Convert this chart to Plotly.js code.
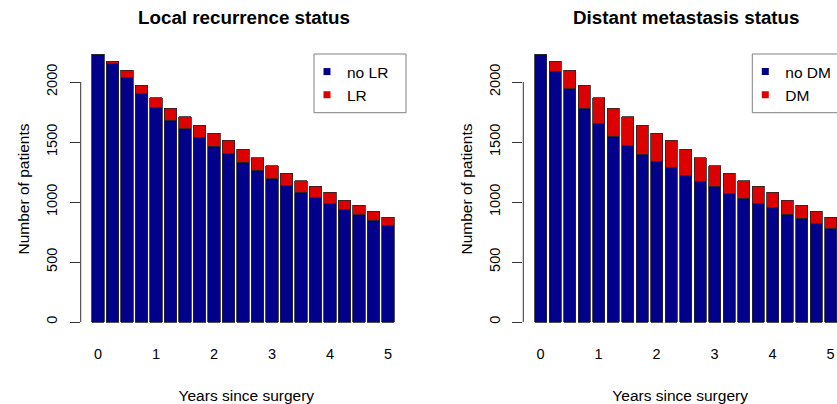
<!DOCTYPE html>
<html>
<head>
<meta charset="utf-8">
<script src="https://cdn.plot.ly/plotly-3.0.1.min.js"></script>
<style>
  html, body { margin: 0; padding: 0; background: #ffffff; }
  #chart { width: 837px; height: 404px; }
</style>
</head>
<body>
<div id="chart"></div>
<script>
// Follow-up time points (years since surgery), one bar every quarter year
const years = [0, 0.25, 0.5, 0.75, 1, 1.25, 1.5, 1.75, 2, 2.25, 2.5, 2.75,
               3, 3.25, 3.5, 3.75, 4, 4.25, 4.5, 4.75, 5];
const yearTicks = [0, 1, 2, 3, 4, 5];
const countTicks = [0, 500, 1000, 1500, 2000];

// Patients still under follow-up, split by local recurrence status
const noLR = [2232, 2153, 2036, 1903, 1786, 1681, 1611, 1541, 1466, 1403, 1330,
              1264, 1195, 1136, 1080, 1036, 991, 936, 895, 847, 803];
const LR   = [0, 22, 61, 72, 83, 100, 100, 100, 109, 111, 111,
              106, 108, 103, 98, 95, 89, 80, 77, 75, 69];

// Same patients, split by distant metastasis status
const noDM = [2232, 2091, 1944, 1781, 1655, 1547, 1469, 1400, 1339, 1289, 1222,
              1172, 1131, 1075, 1031, 991, 955, 897, 864, 822, 780];
const DM   = [0, 84, 153, 194, 214, 234, 242, 241, 236, 225, 219,
              198, 172, 164, 147, 140, 125, 119, 108, 100, 92];

const W = 837, H = 404;
const BLUE = '#00008B';
const RED = '#DD0000';
const FONT = 'Liberation Sans, Arial, Helvetica, sans-serif';
const barWidth = 0.25 / 1.2;
const outline = { color: '#262626', width: 0.8 };

// pixel helpers for layout placement
const px = v => v / W;
const py = v => 1 - v / H;

function stackedBars(xa, ya, lower, upper) {
  return [
    { type: 'bar', x: years, y: lower, xaxis: xa, yaxis: ya, width: barWidth,
      marker: { color: BLUE, line: outline }, showlegend: false, hoverinfo: 'x+y' },
    { type: 'bar', x: years, y: upper, xaxis: xa, yaxis: ya, width: barWidth,
      marker: { color: RED, line: outline }, showlegend: false, hoverinfo: 'x+y' }
  ];
}

function legendKey(name, color, xa, ya, legendId) {
  return { type: 'scatter', mode: 'markers', x: [null], y: [null], xaxis: xa, yaxis: ya,
           name: name, legend: legendId, showlegend: true,
           marker: { symbol: 'square', size: 7, color: color } };
}

const data = [
  ...stackedBars('x', 'y', noLR, LR),
  ...stackedBars('x2', 'y2', noDM, DM),
  legendKey('no LR', BLUE, 'x', 'y', 'legend'),
  legendKey('LR', RED, 'x', 'y', 'legend'),
  legendKey('no DM', BLUE, 'x2', 'y2', 'legend2'),
  legendKey('DM', RED, 'x2', 'y2', 'legend2')
];

const yDomain = [py(332), py(46)];
const yRange = [-83.3, 2300];

function xAxis(domain, range) {
  return {
    domain: domain, range: range, tickvals: yearTicks, ticks: '', showline: false,
    zeroline: false, showgrid: false, fixedrange: true, automargin: false,
    tickfont: { family: FONT, size: 14.5, color: '#000' },
    ticklabelstandoff: 11,
    title: { text: 'Years since surgery', font: { family: FONT, size: 15.5, color: '#000' }, standoff: 30 }
  };
}
function yAxis(anchor) {
  return {
    domain: yDomain, range: yRange, anchor: anchor, tickvals: countTicks,
    ticks: 'outside', ticklen: 10, tickwidth: 1, tickcolor: '#333', tickangle: -90,
    ticklabelstandoff: 7,
    showline: false, zeroline: false, showgrid: false, fixedrange: true, automargin: false,
    tickfont: { family: FONT, size: 14.5, color: '#000' },
    title: { text: 'Number of patients', font: { family: FONT, size: 15.5, color: '#000' }, standoff: 10 }
  };
}

// Legend entries come from Plotly; the frame around each is a paper-space box
const legendStyle = {
  bgcolor: 'rgba(0,0,0,0)', borderwidth: 0,
  font: { family: FONT, size: 15.5, color: '#000' },
  itemwidth: 30, indentation: -8, traceorder: 'normal',
  xanchor: 'left', yanchor: 'top', y: py(55), tracegroupgap: 0
};
const legendFrame = (x0, x1) => ({
  type: 'rect', xref: 'paper', yref: 'paper', x0: px(x0), x1: px(x1), y0: py(112.7), y1: py(54),
  line: { color: '#808080', width: 1 }, fillcolor: 'rgba(0,0,0,0)'
});

const layout = {
  width: W, height: H,
  margin: { l: 0, r: 0, t: 0, b: 0, autoexpand: false },
  paper_bgcolor: '#ffffff', plot_bgcolor: '#ffffff',
  barmode: 'stack',
  xaxis: xAxis([px(80.7), px(412)], [-0.298, 5.414]),
  xaxis2: xAxis([px(523.3), 1], [-0.298, 5.110]),
  yaxis: yAxis('x'),
  yaxis2: yAxis('x2'),
  legend: Object.assign({}, legendStyle, { x: px(315) }),
  legend2: Object.assign({}, legendStyle, { x: px(753.3) }),
  shapes: [
    { type: 'line', xref: 'paper', yref: 'y', x0: px(80.7), x1: px(80.7), y0: 0, y1: 2000,
      line: { color: '#333', width: 1 } },
    { type: 'line', xref: 'paper', yref: 'y2', x0: px(523.3), x1: px(523.3), y0: 0, y1: 2000,
      line: { color: '#333', width: 1 } },
    legendFrame(314, 406),
    legendFrame(752.3, 848.6)
  ],
  annotations: [
    { text: '<b>Local recurrence status</b>', xref: 'paper', yref: 'paper', x: px(244), y: py(17),
      xanchor: 'center', yanchor: 'middle', showarrow: false,
      font: { family: FONT, size: 18.8, color: '#000' } },
    { text: '<b>Distant metastasis status</b>', xref: 'paper', yref: 'paper', x: px(686), y: py(17),
      xanchor: 'center', yanchor: 'middle', showarrow: false,
      font: { family: FONT, size: 18.8, color: '#000' } }
  ]
};

Plotly.newPlot('chart', data, layout, { displayModeBar: false, staticPlot: true });
</script>
</body>
</html>
